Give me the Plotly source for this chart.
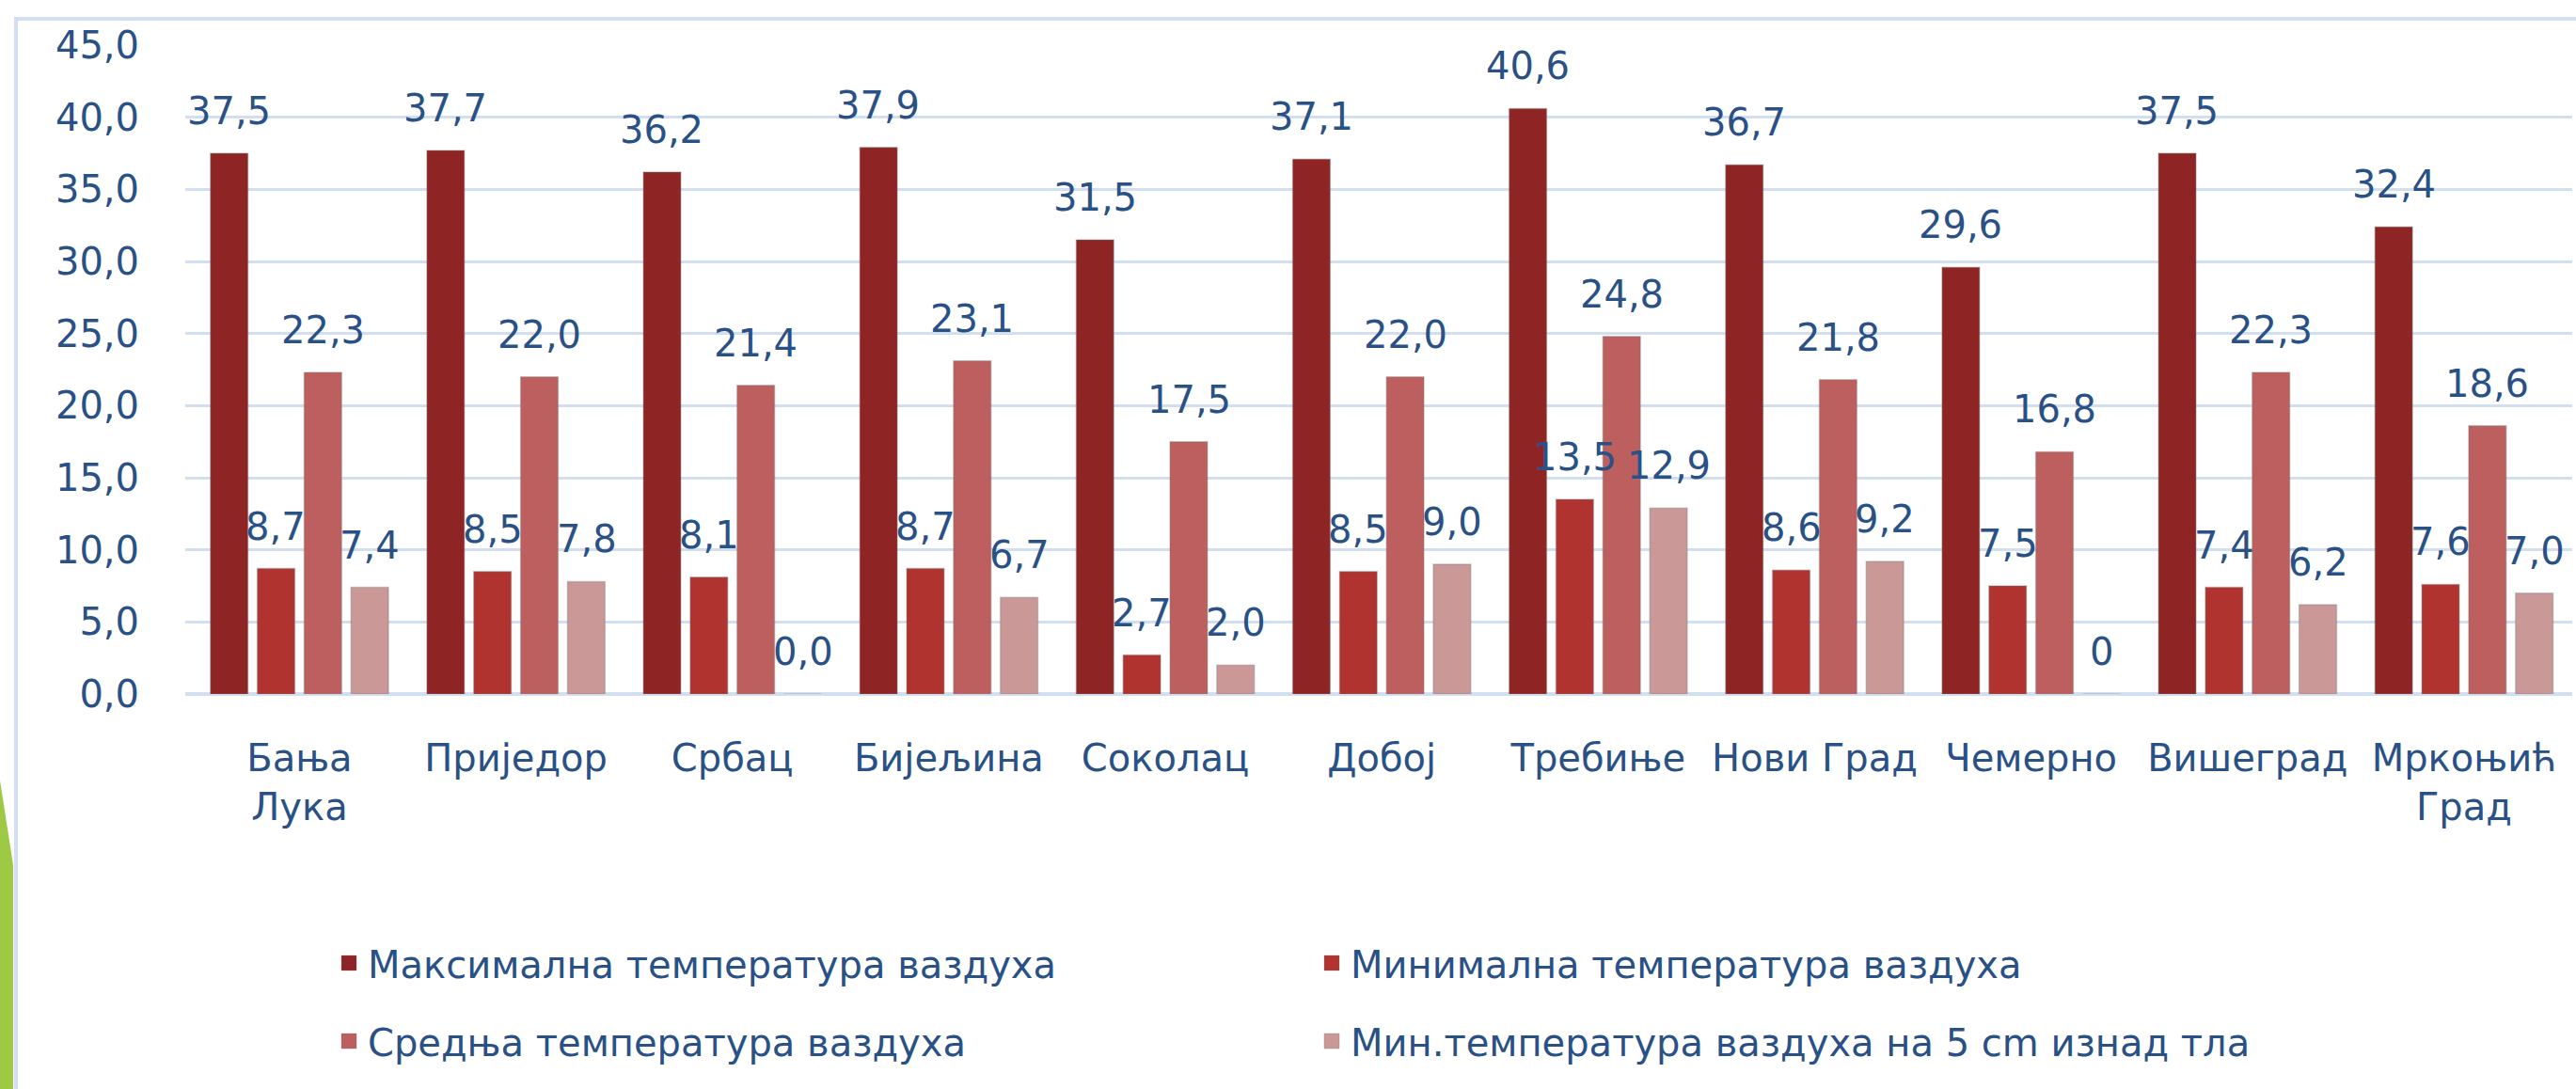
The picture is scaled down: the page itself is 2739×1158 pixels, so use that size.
import plotly.graph_objects as go

# ---------------- data ----------------
categories = ["Бања<br>Лука", "Приједор", "Србац", "Бијељина", "Соколац", "Добој",
              "Требиње", "Нови Град", "Чемерно", "Вишеград", "Мркоњић<br>Град"]
max_temp = [37.5, 37.7, 36.2, 37.9, 31.5, 37.1, 40.6, 36.7, 29.6, 37.5, 32.4]
min_temp = [8.7, 8.5, 8.1, 8.7, 2.7, 8.5, 13.5, 8.6, 7.5, 7.4, 7.6]
mean_temp = [22.3, 22.0, 21.4, 23.1, 17.5, 22.0, 24.8, 21.8, 16.8, 22.3, 18.6]
min5_temp = [7.4, 7.8, 0.0, 6.7, 2.0, 9.0, 12.9, 9.2, 0, 6.2, 7.0]
y_ticks = [0, 5, 10, 15, 20, 25, 30, 35, 40, 45]
series_names = ["Максимална температура ваздуха", "Минимална температура ваздуха",
                "Средња температура ваздуха", "Мин.температура ваздуха на 5 cm изнад тла"]

# ---------------- style ----------------
series_colors = ["#8E2423", "#B0332F", "#BD5F5E", "#CB9898"]
TEXT = "#2A5185"
GRID = "#D2DFF0"
FONT = "DejaVu Sans"
FS = 40

W, H = 2739, 1158
L, R, T, B = 197, 4, 48, 420
PW, PH = W - L - R, H - T - B
BARGAP = 0.134
N, S = len(categories), 4
slot = PW / N * (1 - BARGAP) / S


def px2x(px):
    return (px - L) / PW


def py2y(py):
    return (H - B - py) / PH


def fmt(v):
    return str(v) if isinstance(v, int) else f"{v:.1f}".replace(".", ",")


series = [max_temp, min_temp, mean_temp, min5_temp]
legends = ["legend", "legend", "legend2", "legend2"]

fig = go.Figure()
for name, vals, col in zip(series_names, series, series_colors):
    fig.add_trace(go.Bar(
        x=categories, y=vals, name=name, showlegend=False,
        marker=dict(color=col, line=dict(color="rgba(120,120,120,0.35)", width=1.5)),
    ))
# legend entries with larger square swatches
for name, col, lg in zip(series_names, series_colors, legends):
    fig.add_trace(go.Scatter(
        x=[None], y=[None], mode="markers", name=name, legend=lg,
        marker=dict(symbol="square", size=16, color=col,
                    line=dict(color="rgba(120,120,120,0.35)", width=1)),
    ))

annotations = []
for si, vals in enumerate(series):
    for ci, v in enumerate(vals):
        annotations.append(dict(
            x=categories[ci], y=v, xref="x", yref="y", text=fmt(v), showarrow=False,
            xanchor="center", yanchor="middle", xshift=(si - (S - 1) / 2) * slot, yshift=45,
            font=dict(family=FONT, size=FS, color=TEXT),
        ))

shapes = [
    # light blue frame of the chart area
    dict(type="path", xref="paper", yref="paper",
         path=f"M{px2x(17)},{py2y(1158)} L{px2x(17)},{py2y(20)} L{px2x(2739)},{py2y(20)}",
         line=dict(color=GRID, width=4)),
    # green slide decoration
    dict(type="path", xref="paper", yref="paper",
         path=(f"M{px2x(0)},{py2y(830)} L{px2x(14)},{py2y(920)} L{px2x(14)},{py2y(1158)} "
               f"L{px2x(0)},{py2y(1158)} Z"),
         fillcolor="#9DC945", line=dict(width=0)),
]

legend_common = dict(orientation="h", xanchor="left", yanchor="middle", x=px2x(351),
                     entrywidth=1000, entrywidthmode="pixels", itemsizing="trace",
                     font=dict(family=FONT, size=FS, color=TEXT), bgcolor="rgba(0,0,0,0)")

fig.update_layout(
    width=W, height=H,
    margin=dict(l=L, r=R, t=T, b=B, autoexpand=False),
    paper_bgcolor="white", plot_bgcolor="white",
    barmode="group", bargap=BARGAP, bargroupgap=0.2,
    separators=",.",
    font=dict(family=FONT, size=FS, color=TEXT),
    annotations=annotations,
    shapes=shapes,
    legend=dict(**legend_common, y=py2y(1024)),
    legend2=dict(**legend_common, y=py2y(1107)),
    xaxis=dict(type="category", tickangle=0, showgrid=False, showline=False,
               ticklabelstandoff=41, tickfont=dict(family=FONT, size=FS, color=TEXT)),
    yaxis=dict(range=[0, 45], tickvals=y_ticks, tickformat=".1f", showgrid=True,
               gridcolor=GRID, gridwidth=3, zeroline=True, zerolinecolor=GRID, zerolinewidth=4,
               ticklabelstandoff=48, tickfont=dict(family=FONT, size=FS, color=TEXT)),
)

fig.write_html("out.html", config={"displayModeBar": False},
               post_script="document.body.style.margin='0';document.body.style.overflow='hidden';")
